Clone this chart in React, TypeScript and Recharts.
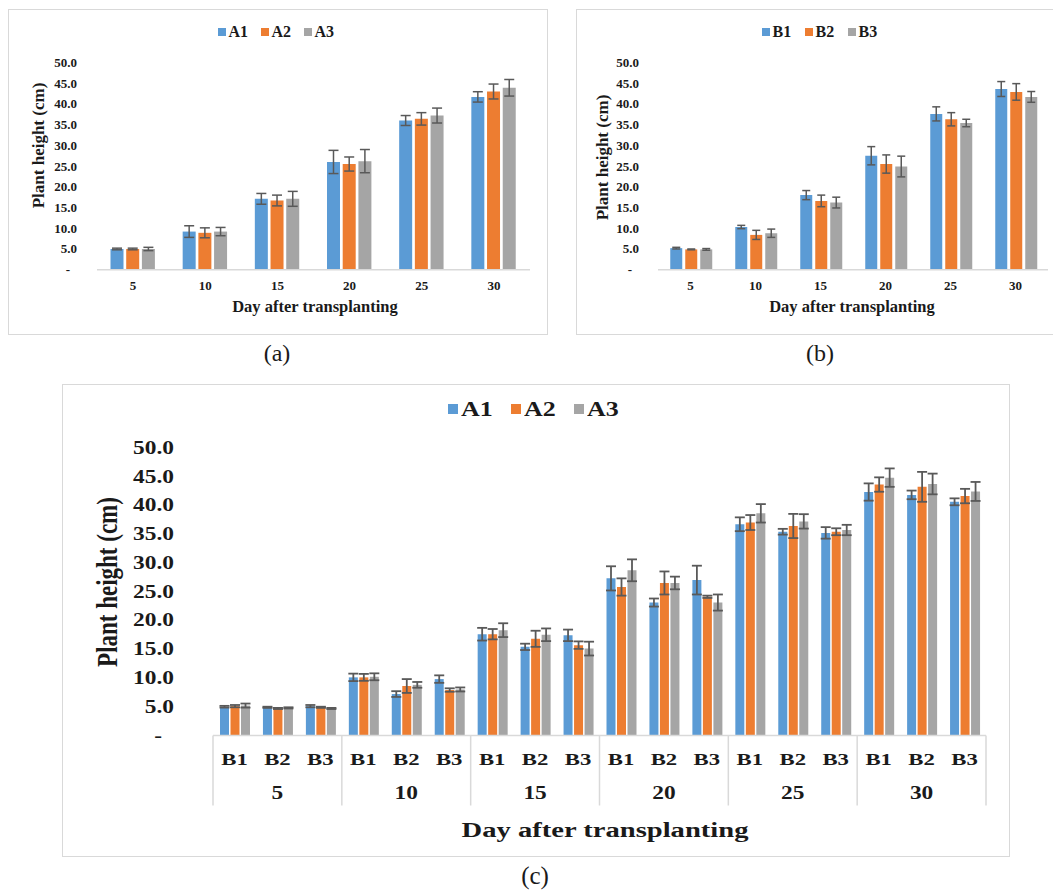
import React from 'react';
import { BarChart, Bar, XAxis, YAxis, ErrorBar, Legend } from 'recharts';

const FONT = '"Liberation Serif", "Times New Roman", Times, serif';
const TEXT = '#1a1a1a';
const AXIS = '#D9D9D9';
const BORDER = '#D9D9D9';
const BLUE = '#5B9BD5';
const ORANGE = '#ED7D31';
const GRAY = '#A5A5A5';
const ERR = '#595959';

// ---------- shared ----------
const days = ['5', '10', '15', '20', '25', '30'];
const yTicks = [0, 5, 10, 15, 20, 25, 30, 35, 40, 45, 50];
const subLabels = ['B1', 'B2', 'B3'];

// ---------- panel (a) ----------
const a1 = [5.0, 9.2, 17.1, 26.0, 36.0, 41.7];
const a1Err = [0.2, 1.4, 1.3, 2.8, 1.2, 1.25];
const a2 = [5.0, 8.9, 16.7, 25.5, 36.4, 43.0];
const a2Err = [0.2, 1.2, 1.3, 1.7, 1.5, 1.8];
const a3 = [5.0, 9.2, 17.1, 26.2, 37.2, 43.9];
const a3Err = [0.4, 1.0, 1.8, 2.8, 1.8, 2.0];

// ---------- panel (b) ----------
const b1 = [5.2, 10.3, 18.0, 27.5, 37.6, 43.6];
const b1Err = [0.2, 0.4, 1.1, 2.2, 1.7, 1.8];
const b2 = [4.9, 8.4, 16.6, 25.5, 36.3, 42.9];
const b2Err = [0.1, 1.1, 1.4, 2.2, 1.6, 2.0];
const b3 = [4.9, 8.8, 16.2, 24.9, 35.4, 41.7];
const b3Err = [0.2, 1.0, 1.3, 2.5, 0.9, 1.3];

// ---------- panel (c) (order: day 5 B1,B2,B3, day 10 B1,B2,B3, ...) ----------
const c1 = [5.0, 4.9, 5.1, 10.1, 7.2, 9.8, 17.6, 15.4, 17.4, 27.3, 23.1, 27.0, 36.7, 35.4, 35.2, 42.3, 41.8, 40.6];
const c1Err = [0.15, 0.1, 0.2, 0.65, 0.5, 0.65, 1.1, 0.55, 1.0, 2.1, 0.7, 2.5, 1.2, 0.5, 1.0, 1.5, 0.75, 0.6];
const c2 = [5.1, 4.7, 4.9, 10.1, 8.6, 7.9, 17.6, 16.8, 15.7, 25.8, 26.5, 24.1, 37.0, 36.4, 35.4, 43.6, 43.2, 41.6];
const c2Err = [0.2, 0.1, 0.1, 0.6, 1.2, 0.3, 0.9, 1.4, 0.65, 1.5, 2.0, 0.2, 1.3, 2.1, 0.6, 1.25, 2.6, 1.25];
const c3 = [5.2, 4.8, 4.7, 10.2, 8.8, 8.0, 18.3, 17.5, 15.1, 28.7, 26.5, 23.1, 38.6, 37.2, 35.7, 44.8, 43.7, 42.4];
const c3Err = [0.35, 0.1, 0.1, 0.6, 0.5, 0.35, 1.2, 1.1, 1.2, 1.9, 1.1, 1.4, 1.6, 1.25, 0.9, 1.6, 1.8, 1.65];

const dataA = days.map((day, i) => ({ day, A1: a1[i], A1e: a1Err[i], A2: a2[i], A2e: a2Err[i], A3: a3[i], A3e: a3Err[i] }));
const dataB = days.map((day, i) => ({ day, B1: b1[i], B1e: b1Err[i], B2: b2[i], B2e: b2Err[i], B3: b3[i], B3e: b3Err[i] }));
const dataC = days.flatMap((day, g) =>
  subLabels.map((sub, k) => {
    const i = g * 3 + k;
    return { day, sub, A1: c1[i], A1e: c1Err[i], A2: c2[i], A2e: c2Err[i], A3: c3[i], A3e: c3Err[i] };
  })
);

const fmtY = (v: number) => (v === 0 ? '-' : Number(v).toFixed(1));

const makeYTick = (fs: number, sx: number, zeroShift: number) => (p: any) => {
  const v = p.payload.value;
  const tx = v === 0 ? p.x - zeroShift : p.x;
  return (
    <text transform={`translate(${tx},${p.y}) scale(${sx},1)`} textAnchor="end" dominantBaseline="central"
      fontFamily={FONT} fontWeight="bold" fontSize={fs} fill={TEXT}>{fmtY(v)}</text>
  );
};

const makeXTick = (fs: number, dy: number) => (p: any) => (
  <text x={p.x} y={p.y + dy} textAnchor="middle" dominantBaseline="central"
    fontFamily={FONT} fontWeight="bold" fontSize={fs} fill={TEXT}>{p.payload.value}</text>
);

const yTitle = (cx: number, cy: number, fs: number, sx: number) => () => (
  <text transform={`translate(${cx},${cy}) scale(${sx},1) rotate(-90)`} textAnchor="middle" dominantBaseline="central"
    fontFamily={FONT} fontWeight="bold" fontSize={fs} fill={TEXT}>Plant height (cm)</text>
);

const xTitle = (cx: number, cy: number, fs: number, sx: number) => () => (
  <text transform={`translate(${cx},${cy}) scale(${sx},1)`} textAnchor="middle" dominantBaseline="central"
    fontFamily={FONT} fontWeight="bold" fontSize={fs} fill={TEXT}>Day after transplanting</text>
);

const makeLegend = (fs: number, sw: number, sx: number, gap: number, textW: number) => (props: any) => {
  const payload = props.payload || [];
  return (
    <div style={{ display: 'flex', justifyContent: 'center', alignItems: 'center', fontFamily: FONT, fontWeight: 'bold', fontSize: fs, color: TEXT, lineHeight: 1 }}>
      {payload.map((it: any) => (
        <div key={it.value} style={{ display: 'flex', alignItems: 'center', marginRight: gap }}>
          <span style={{ display: 'inline-block', width: sw, height: sw, background: it.color, marginRight: 3 }} />
          <span style={{ display: 'inline-block', width: textW, whiteSpace: 'nowrap' }}>
            <span style={{ display: 'inline-block', transform: `scaleX(${sx})`, transformOrigin: 'left center' }}>{it.value}</span>
          </span>
        </div>
      ))}
    </div>
  );
};

const CTick = (p: any) => {
  const { x, y, payload, index } = p;
  const off = payload && typeof payload.offset === 'number' && payload.offset > 0 ? payload.offset : 21.47;
  const row = dataC[index];
  return (
    <g>
      {index % 3 === 0 && <line x1={x - off} x2={x - off} y1={y} y2={y + 70} stroke={AXIS} strokeWidth={1.5} />}
      {index === dataC.length - 1 && <line x1={x + off} x2={x + off} y1={y} y2={y + 70} stroke={AXIS} strokeWidth={1.5} />}
      <text transform={`translate(${x},${y + 23.5}) scale(1.3,1)`} textAnchor="middle" dominantBaseline="central"
        fontFamily={FONT} fontWeight="bold" fontSize={17.5} fill={TEXT}>{payload.value}</text>
      {index % 3 === 1 && row && (
        <text transform={`translate(${x},${y + 57}) scale(1.3,1)`} textAnchor="middle" dominantBaseline="central"
          fontFamily={FONT} fontWeight="bold" fontSize={18} fill={TEXT}>{row.day}</text>
      )}
    </g>
  );
};

const abs = (left: number, top: number, w: number, h: number): React.CSSProperties => ({ position: 'absolute', left, top, width: w, height: h });

const caption = (txt: string, cx: number, cy: number, fs: number) => (
  <div style={{ position: 'absolute', left: cx - 30, top: cy - 14, width: 60, height: 28, lineHeight: '28px', textAlign: 'center', fontFamily: FONT, fontSize: fs, color: TEXT }}>{txt}</div>
);

export default function App() {
  return (
    <div style={{ position: 'absolute', left: 0, top: 0, width: 1053, height: 891, background: '#fff', overflow: 'hidden' }}>
      {/* frames */}
      <div style={{ ...abs(8, 9, 540, 326), border: `1.5px solid ${BORDER}`, boxSizing: 'border-box' }} />
      <div style={{ ...abs(576, 9, 520, 326), border: `1.5px solid ${BORDER}`, boxSizing: 'border-box' }} />
      <div style={{ ...abs(62, 384, 948, 473), border: `1.5px solid ${BORDER}`, boxSizing: 'border-box' }} />

      {/* panel (a) */}
      <div style={abs(8, 9, 540, 326)}>
        <BarChart width={540} height={326} data={dataA} margin={{ top: 53.5, right: 18, bottom: 15.3, left: 29 }}
          barCategoryGap={13.5} barGap={2.7}>
          <XAxis dataKey="day" height={50} tickLine={false} tickSize={0} tickMargin={0} axisLine={{ stroke: AXIS, strokeWidth: 1.5 }}
            tick={makeXTick(13, 15.3)} interval={0} label={xTitle(307, 297.7, 16.5, 1)} />
          <YAxis width={60} domain={[0, 50]} ticks={yTicks} interval={0} axisLine={false} tickLine={false} tickSize={0} tickMargin={20}
            tick={makeYTick(13, 1, 7)} label={yTitle(30, 136.5, 17, 1)} />
          <Legend verticalAlign="middle" align="center" layout="horizontal" content={makeLegend(16, 8, 1, 11, 21)}
            wrapperStyle={{ top: 15, left: 0, width: 548, height: 18 }} />
          <Bar dataKey="A1" name="A1" fill={BLUE} isAnimationActive={false}>
            <ErrorBar dataKey="A1e" width={5} stroke={ERR} strokeWidth={1.5} direction="y" />
          </Bar>
          <Bar dataKey="A2" name="A2" fill={ORANGE} isAnimationActive={false}>
            <ErrorBar dataKey="A2e" width={5} stroke={ERR} strokeWidth={1.5} direction="y" />
          </Bar>
          <Bar dataKey="A3" name="A3" fill={GRAY} isAnimationActive={false}>
            <ErrorBar dataKey="A3e" width={5} stroke={ERR} strokeWidth={1.5} direction="y" />
          </Bar>
        </BarChart>
      </div>

      {/* panel (b) */}
      <div style={abs(576, 9, 477, 326)}>
        <BarChart width={477} height={326} data={dataB} margin={{ top: 53.5, right: 5, bottom: 15.3, left: 22 }}
          barCategoryGap={12.25} barGap={3}>
          <XAxis dataKey="day" height={50} tickLine={false} tickSize={0} tickMargin={0} axisLine={{ stroke: AXIS, strokeWidth: 1.5 }}
            tick={makeXTick(13, 15.3)} interval={0} label={xTitle(276, 297.7, 16.5, 1)} />
          <YAxis width={60} domain={[0, 50]} ticks={yTicks} interval={0} axisLine={false} tickLine={false} tickSize={0} tickMargin={19}
            tick={makeYTick(13, 1, 7)} label={yTitle(26.7, 148.5, 17, 1)} />
          <Legend verticalAlign="middle" align="center" layout="horizontal" content={makeLegend(16, 8, 1, 11, 21)}
            wrapperStyle={{ top: 15, left: 0, width: 500, height: 18 }} />
          <Bar dataKey="B1" name="B1" fill={BLUE} isAnimationActive={false}>
            <ErrorBar dataKey="B1e" width={4} stroke={ERR} strokeWidth={1.5} direction="y" />
          </Bar>
          <Bar dataKey="B2" name="B2" fill={ORANGE} isAnimationActive={false}>
            <ErrorBar dataKey="B2e" width={4} stroke={ERR} strokeWidth={1.5} direction="y" />
          </Bar>
          <Bar dataKey="B3" name="B3" fill={GRAY} isAnimationActive={false}>
            <ErrorBar dataKey="B3e" width={4} stroke={ERR} strokeWidth={1.5} direction="y" />
          </Bar>
        </BarChart>
      </div>

      {/* panel (c) */}
      <div style={abs(62, 384, 948, 473)}>
        <BarChart width={948} height={473} data={dataC} margin={{ top: 63.7, right: 24, bottom: 11.5, left: 71 }}
          barCategoryGap={7} barGap={1.5}>
          <XAxis dataKey="sub" height={110} tickLine={false} tickSize={0} tickMargin={0} axisLine={{ stroke: AXIS, strokeWidth: 1.5 }}
            tick={CTick} interval={0} label={xTitle(543, 446, 22, 1.3)} />
          <YAxis width={80} domain={[0, 50]} ticks={yTicks} interval={0} axisLine={false} tickLine={false} tickSize={0} tickMargin={39}
            tick={makeYTick(18, 1.3, 12)} label={yTitle(44.7, 198, 23, 1.3)} />
          <Legend verticalAlign="middle" align="center" layout="horizontal" content={makeLegend(20, 10, 1.3, 17, 33)}
            wrapperStyle={{ top: 15, left: 0, width: 960, height: 20 }} />
          <Bar dataKey="A1" name="A1" fill={BLUE} isAnimationActive={false}>
            <ErrorBar dataKey="A1e" width={5} stroke={ERR} strokeWidth={1.8} direction="y" />
          </Bar>
          <Bar dataKey="A2" name="A2" fill={ORANGE} isAnimationActive={false}>
            <ErrorBar dataKey="A2e" width={5} stroke={ERR} strokeWidth={1.8} direction="y" />
          </Bar>
          <Bar dataKey="A3" name="A3" fill={GRAY} isAnimationActive={false}>
            <ErrorBar dataKey="A3e" width={5} stroke={ERR} strokeWidth={1.8} direction="y" />
          </Bar>
        </BarChart>
      </div>

      {caption('(a)', 277, 353, 24)}
      {caption('(b)', 820, 353, 24)}
      {caption('(c)', 535, 876, 25)}
    </div>
  );
}
